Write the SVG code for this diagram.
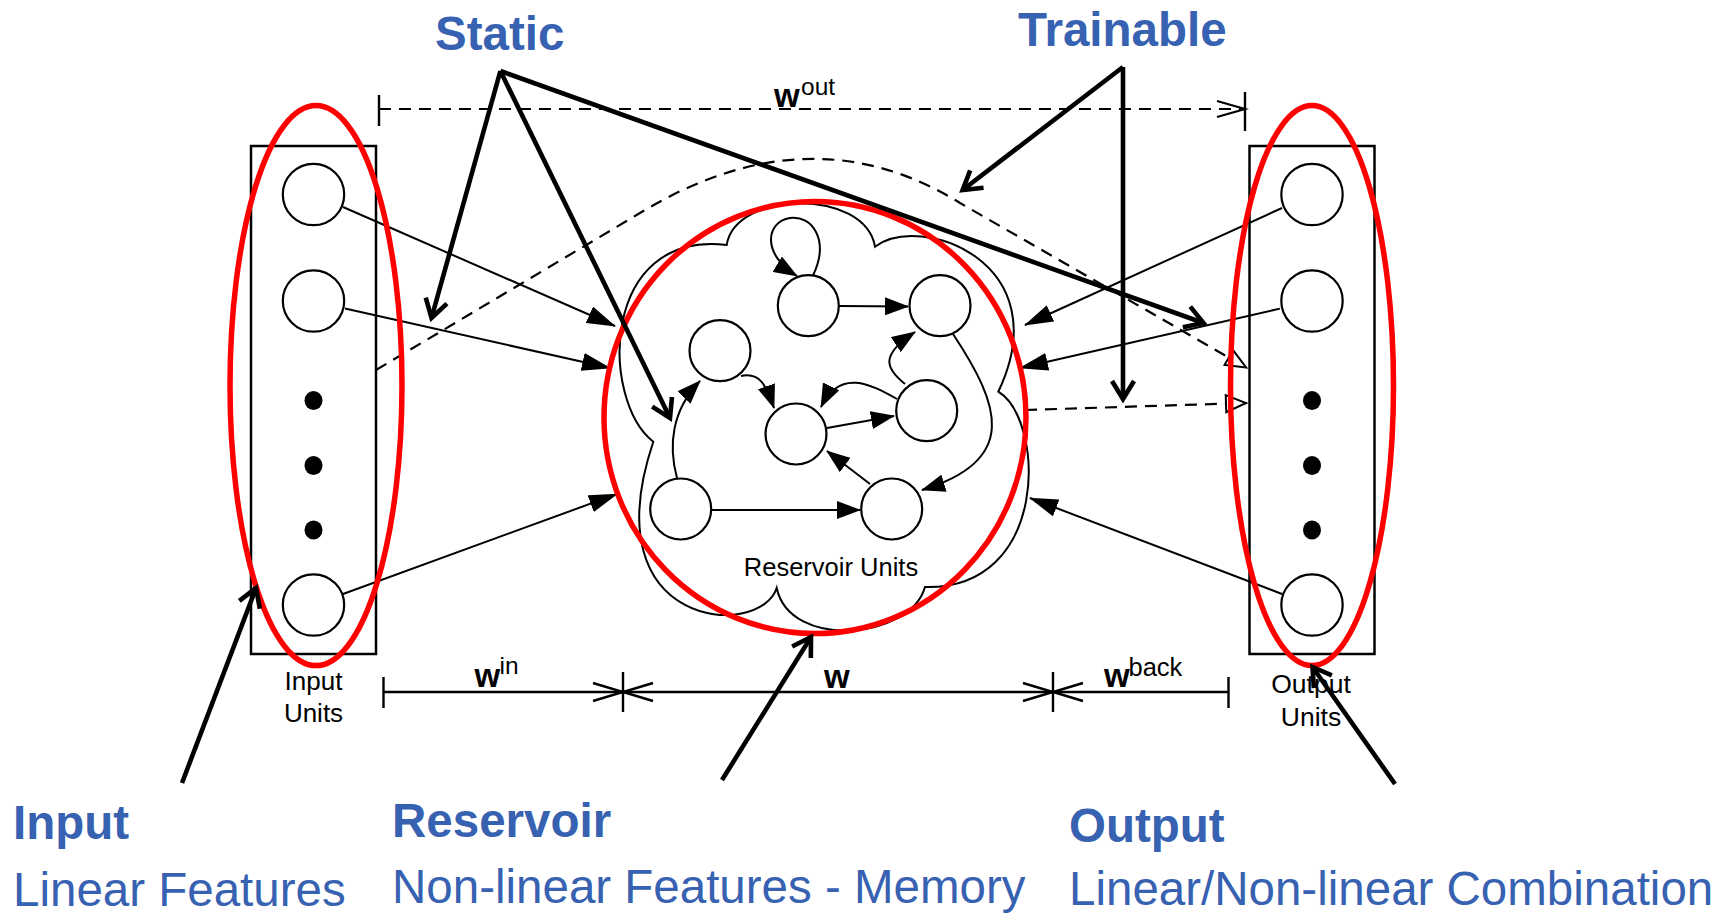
<svg xmlns="http://www.w3.org/2000/svg" width="1734" height="915" viewBox="0 0 1734 915">
  <style>
    .unit { fill: #fff; stroke: #000; stroke-width: 2.2; }
    .dot { fill: #000; }
    .box { fill: none; stroke: #000; stroke-width: 2.5; }
    .edge { fill: none; stroke: #000; stroke-width: 2; }
    .dash { fill: none; stroke: #000; stroke-width: 2.2; stroke-dasharray: 12 8; }
    .dim { fill: none; stroke: #000; stroke-width: 2.4; }
    .hl { fill: none; stroke: #ff0000; stroke-width: 5.5; }
    .note { fill: none; stroke: #000; stroke-width: 4.6; }
    .lbl { font-family: "Liberation Sans", Arial, sans-serif; fill: #000; }
    .blue { font-family: "Liberation Sans", Arial, sans-serif; fill: #3761b1; font-size: 47.5px; }
    .bold { font-weight: bold; }
  </style>
  <defs>
    <marker id="tri" markerUnits="userSpaceOnUse" viewBox="0 0 24 18" markerWidth="24" markerHeight="18" refX="23" refY="9" orient="auto">
      <path d="M0,0 L24,9 L0,18 z" fill="#000"/>
    </marker>
    <marker id="tri-l" markerUnits="userSpaceOnUse" viewBox="0 0 29 18" markerWidth="29" markerHeight="18" refX="28" refY="9" orient="auto">
      <path d="M0,0 L29,9 L0,18 z" fill="#000"/>
    </marker>
    <marker id="hollow" markerUnits="userSpaceOnUse" viewBox="0 0 26 22" markerWidth="26" markerHeight="22" refX="24" refY="11" orient="auto">
      <path d="M3,2.5 L23,11 L3,19.5 z" fill="#fff" stroke="#000" stroke-width="2"/>
    </marker>
    <marker id="chev" markerUnits="userSpaceOnUse" viewBox="0 0 32 22" markerWidth="32" markerHeight="22" refX="30" refY="11" orient="auto" overflow="visible">
      <path d="M2,3 L30,11 L2,19" fill="none" stroke="#000" stroke-width="2.2"/>
    </marker>
    <marker id="big" markerUnits="userSpaceOnUse" viewBox="-4 -4 30 30" markerWidth="30" markerHeight="30" refX="18" refY="11" orient="auto" overflow="visible">
      <path d="M0,0 L18,11 L0,22" fill="none" stroke="#000" stroke-width="4.6" stroke-linejoin="miter"/>
    </marker>
  </defs>

  <rect width="1734" height="915" fill="#fff"/>

  <!-- input layer -->
  <g id="input-units">
    <rect class="box" x="251" y="146" width="125" height="508"/>
    <circle class="unit" cx="313.5" cy="194.5" r="30.7"/>
    <circle class="unit" cx="313.5" cy="301" r="30.7"/>
    <ellipse class="dot" cx="313.5" cy="400.5" rx="9" ry="9.5"/>
    <ellipse class="dot" cx="313.5" cy="465.5" rx="9" ry="9.5"/>
    <ellipse class="dot" cx="313.5" cy="530" rx="9" ry="9.5"/>
    <circle class="unit" cx="313.5" cy="605" r="30.7"/>
    <text class="lbl" x="313.5" y="690" font-size="26" text-anchor="middle">Input</text>
    <text class="lbl" x="313.5" y="722" font-size="26" text-anchor="middle">Units</text>
  </g>

  <!-- output layer -->
  <g id="output-units">
    <rect class="box" x="1249.5" y="146" width="125" height="508"/>
    <circle class="unit" cx="1312" cy="194.5" r="30.7"/>
    <circle class="unit" cx="1312" cy="301" r="30.7"/>
    <ellipse class="dot" cx="1312" cy="400.5" rx="9" ry="9.5"/>
    <ellipse class="dot" cx="1312" cy="465.5" rx="9" ry="9.5"/>
    <ellipse class="dot" cx="1312" cy="530" rx="9" ry="9.5"/>
    <circle class="unit" cx="1312" cy="605" r="30.7"/>
    <text class="lbl" x="1311" y="693" font-size="26.5" text-anchor="middle">Output</text>
    <text class="lbl" x="1311" y="726" font-size="26.5" text-anchor="middle">Units</text>
  </g>

  <!-- reservoir -->
  <g id="reservoir">
    <path class="edge" d="M726.7,245 C735,190 865,188 875,246.7 C920,212 1060,262 998.3,391.7 C1045,420 1050,590 925,587 C910,640 790,650 776.7,588 C760,640 590,630 653.3,441.7 C600,400 600,230 726.7,245 Z"/>
    <text class="lbl" x="831" y="576" font-size="25.5" text-anchor="middle">Reservoir Units</text>
  </g>
  <g id="r1"><circle class="unit" cx="808.3" cy="305.7" r="30.5"/></g>
  <g id="r2"><circle class="unit" cx="940" cy="305.7" r="30.5"/></g>
  <g id="r3"><circle class="unit" cx="720" cy="350.7" r="30.5"/></g>
  <g id="r4"><circle class="unit" cx="796" cy="434" r="30.5"/></g>
  <g id="r5"><circle class="unit" cx="926.7" cy="410.7" r="30.5"/></g>
  <g id="r6"><circle class="unit" cx="680.7" cy="509" r="30.5"/></g>
  <g id="r7"><circle class="unit" cx="891.7" cy="509" r="30.5"/></g>

  <!-- connections -->
  <g id="connectors">
    <!-- recurrent links inside the reservoir -->
    <path class="edge" marker-end="url(#tri)" d="M813,275.5 C830,240 812,215 790,218 C765,222 762,255 797,276"/>
    <path class="edge" marker-end="url(#tri)" d="M839,306 L908,306.5"/>
    <path class="edge" marker-end="url(#tri)" d="M741,376 C760,372 766,385 774,408"/>
    <path class="edge" marker-end="url(#tri)" d="M677,478 C668,445 672,410 700,381"/>
    <path class="edge" marker-end="url(#tri)" d="M827,428 L894,416"/>
    <path class="edge" marker-end="url(#tri)" d="M897,399 C870,384 840,368 821,407"/>
    <path class="edge" marker-end="url(#tri)" d="M905,384 C885,368 880,355 915,332"/>
    <path class="edge" marker-end="url(#tri)" d="M953,334 C1000,405 1020,460 922,490"/>
    <path class="edge" marker-end="url(#tri)" d="M870,484 L827,451"/>
    <path class="edge" marker-end="url(#tri)" d="M712,510 L860,510"/>

    <!-- input weights -->
    <path class="edge" marker-end="url(#tri-l)" d="M343,207 L615,326"/>
    <path class="edge" marker-end="url(#tri-l)" d="M345,308.6 L610,368"/>
    <path class="edge" marker-end="url(#tri-l)" d="M343,594 L617,494"/>

    <!-- feedback weights -->
    <path class="edge" marker-end="url(#tri-l)" d="M1282,208 L1025,325"/>
    <path class="edge" marker-end="url(#tri-l)" d="M1280,308.6 L1020,368"/>
    <path class="edge" marker-end="url(#tri-l)" d="M1282,594 L1030,498"/>

    <!-- readout weights -->
    <path class="dash" marker-end="url(#hollow)" d="M376,370 L640,213 Q810,110 960,203 L1247,368"/>
    <path class="dash" marker-end="url(#hollow)" d="M1025,410 L1247,403"/>
  </g>

  <!-- weight spans -->
  <g id="spans">
    <line class="dim" x1="379" y1="95" x2="379" y2="126"/>
    <line class="dim" x1="1245" y1="92" x2="1245" y2="131"/>
    <path class="dash" stroke-dasharray="14 9" marker-end="url(#chev)" d="M379,109 L1245,109"/>
    <text class="lbl bold" x="774" y="107" font-size="33">w</text>
    <text class="lbl" x="801" y="95" font-size="24.5">out</text>

    <line class="dim" x1="383.5" y1="692" x2="1228.5" y2="692"/>
    <line class="dim" x1="383.5" y1="677" x2="383.5" y2="708"/>
    <line class="dim" x1="623" y1="672" x2="623" y2="712"/>
    <line class="dim" x1="1053" y1="672" x2="1053" y2="712"/>
    <line class="dim" x1="1228.5" y1="677" x2="1228.5" y2="708"/>
    <polyline class="dim" points="593,683 623,692 593,701"/>
    <polyline class="dim" points="653,683 623,692 653,701"/>
    <polyline class="dim" points="1023,683 1053,692 1023,701"/>
    <polyline class="dim" points="1083,683 1053,692 1083,701"/>
    <text class="lbl bold" x="474.5" y="687" font-size="33">w</text>
    <text class="lbl" x="499.5" y="674" font-size="24.5">in</text>
    <text class="lbl bold" x="824" y="688" font-size="33">w</text>
    <text class="lbl bold" x="1104" y="687" font-size="33">w</text>
    <text class="lbl" x="1128.5" y="676" font-size="25.5">back</text>
  </g>

  <!-- highlighted groups -->
  <g id="highlights">
    <ellipse class="hl" cx="316" cy="385.6" rx="86" ry="280"/>
    <ellipse class="hl" cx="815" cy="417.5" rx="211" ry="216"/>
    <ellipse class="hl" cx="1312" cy="385.6" rx="81.5" ry="280"/>
  </g>

  <!-- callout arrows -->
  <g id="callouts">
    <path class="note" marker-end="url(#big)" d="M500.4,71 L431.5,318"/>
    <path class="note" marker-end="url(#big)" d="M500.4,71 L670,418"/>
    <path class="note" marker-end="url(#big)" d="M500.4,71 L1203.5,323"/>
    <path class="note" marker-end="url(#big)" d="M1123,67 L962.6,190"/>
    <path class="note" marker-end="url(#big)" d="M1123,67 L1123,399"/>
    <path class="note" marker-end="url(#big)" d="M182,783 L256,588"/>
    <path class="note" marker-end="url(#big)" d="M722,780 L811,637"/>
    <path class="note" marker-end="url(#big)" d="M1395,784 L1312.5,667"/>
  </g>

  <!-- captions -->
  <g id="captions">
    <text class="blue bold" x="435" y="50">Static</text>
    <text class="blue bold" x="1018" y="46">Trainable</text>
    <text class="blue bold" x="13" y="839">Input</text>
    <text class="blue" x="13" y="906">Linear Features</text>
    <text class="blue bold" x="392" y="837">Reservoir</text>
    <text class="blue" x="392" y="903">Non-linear Features - Memory</text>
    <text class="blue bold" x="1069" y="842">Output</text>
    <text class="blue" x="1069" y="905" font-size="47">Linear/Non-linear Combination</text>
  </g>
</svg>
